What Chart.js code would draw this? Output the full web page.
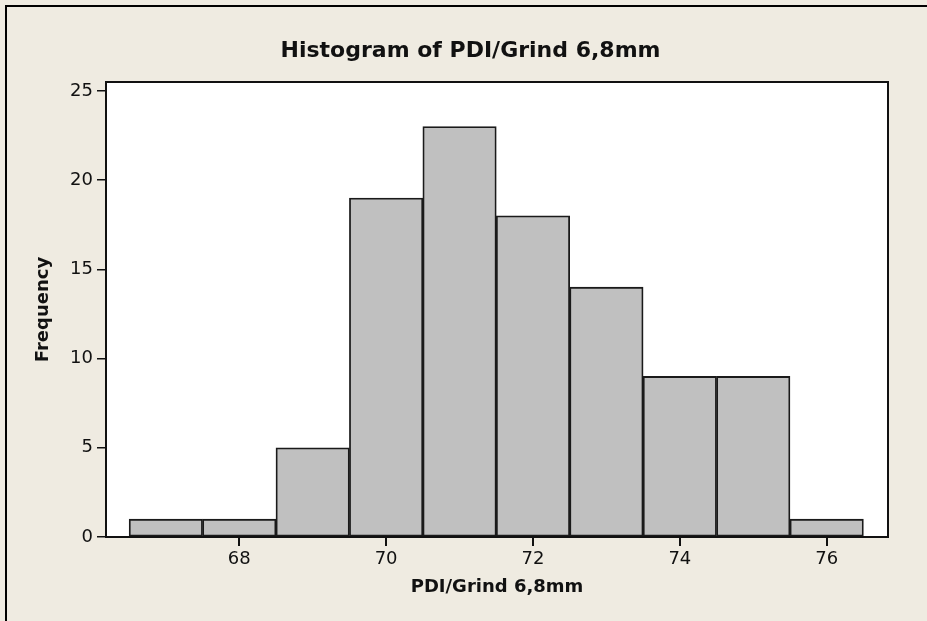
<!DOCTYPE html>
<html>
<head>
<meta charset="utf-8">
<script src="https://cdn.jsdelivr.net/npm/chart.js@4"></script>
<style>
  html, body { margin: 0; padding: 0; background: #efebe1; }
  canvas { display: block; }
</style>
</head>
<body>
<canvas id="chart-hist" width="927" height="621"></canvas>
<script>
// bins are 1 unit wide, centred on whole values
const binCenters = [67, 68, 69, 70, 71, 72, 73, 74, 75, 76];
const frequency = [1, 1, 5, 19, 23, 18, 14, 9, 9, 1];
const xTicks = [68, 70, 72, 74, 76];
const yTicks = [0, 5, 10, 15, 20, 25];

const INK = '#111111';

const frame = {
  id: 'frame',
  afterLayout(chart) {
    // title in the reference sits a bit right of canvas centre
    const t = chart.titleBlock;
    if (t) { t.left = 14; t.right = 927; }
  },
  beforeDraw(chart) {
    const { ctx, chartArea: a } = chart;
    ctx.save();
    ctx.fillStyle = '#efebe1';
    ctx.fillRect(0, 0, chart.width, chart.height);
    ctx.strokeStyle = '#000';
    ctx.lineWidth = 2;
    ctx.beginPath();
    ctx.moveTo(6, chart.height);
    ctx.lineTo(6, 6);
    ctx.lineTo(chart.width, 6);
    ctx.stroke();
    ctx.fillStyle = '#ffffff';
    ctx.fillRect(a.left, a.top, a.right - a.left, a.bottom - a.top);
    ctx.restore();
  },
  afterDatasetsDraw(chart) {
    const { ctx, chartArea: a } = chart;
    ctx.save();
    ctx.strokeStyle = '#111';
    ctx.lineWidth = 2;
    ctx.strokeRect(a.left, a.top, a.right - a.left, a.bottom - a.top);
    ctx.restore();
  },
};

Chart.defaults.font.family = "'DejaVu Sans', sans-serif";
Chart.defaults.color = INK;

new Chart(document.getElementById('chart-hist'), {
  type: 'bar',
  data: {
    datasets: [
      {
        label: 'Frequency',
        data: binCenters.map((x, i) => ({ x, y: frequency[i] })),
        backgroundColor: '#c0c0c0',
        borderColor: '#1a1a1a',
        borderWidth: 1.8,
        borderSkipped: false,
        barPercentage: 1,
        categoryPercentage: 1,
      },
    ],
  },
  options: {
    responsive: false,
    animation: false,
    devicePixelRatio: 1,
    layout: { padding: { left: 0, right: 39, top: 0, bottom: 0 } },
    plugins: {
      legend: { display: false },
      tooltip: { enabled: false },
      title: {
        display: true,
        text: 'Histogram of PDI/Grind 6,8mm',
        color: INK,
        font: { size: 22, weight: 'bold' },
        padding: { top: 38.5, bottom: 17.1 },
      },
    },
    scales: {
      x: {
        type: 'linear',
        min: 66.185,
        max: 76.835,
        offset: false,
        afterBuildTicks: (s) => { s.ticks = xTicks.map((v) => ({ value: v })); },
        afterFit: (s) => { s.height = 84; },
        grid: {
          display: true,
          offset: false,
          drawOnChartArea: false,
          drawTicks: true,
          tickLength: 9,
          tickColor: INK,
          tickWidth: 2,
          color: INK,
          lineWidth: 2,
        },
        border: { display: false },
        ticks: { color: INK, font: { size: 18 }, padding: 3, maxRotation: 0 },
        title: {
          display: true,
          text: 'PDI/Grind 6,8mm',
          color: INK,
          font: { size: 18, weight: 'bold' },
          padding: { top: 0, bottom: 22.5 },
        },
      },
      y: {
        min: 0,
        max: 25.5,
        afterBuildTicks: (s) => { s.ticks = yTicks.map((v) => ({ value: v })); },
        afterFit: (s) => { s.width = 106; },
        grid: { drawOnChartArea: false, drawTicks: true, tickLength: 9, color: INK, lineWidth: 1.5 },
        border: { display: false },
        ticks: { color: INK, font: { size: 18 }, padding: 4 },
        title: {
          display: true,
          text: 'Frequency',
          color: INK,
          font: { size: 18, weight: 'bold' },
          padding: { top: 33, bottom: 0 },
        },
      },
    },
  },
  plugins: [frame],
});
</script>
</body>
</html>
